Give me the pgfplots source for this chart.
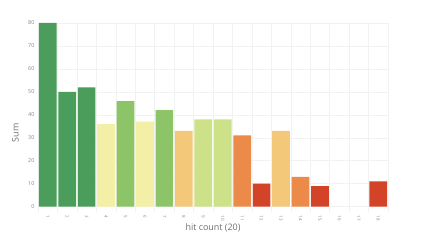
\documentclass[border=0pt]{standalone}
\usepackage{pgfplots}
\pgfplotsset{compat=1.18}
\usepackage{fontspec}
\setmainfont{Open Sans}
\definecolor{dg}{HTML}{4A9D5B}
\definecolor{ly}{HTML}{F4EFA6}
\definecolor{mg}{HTML}{8CC467}
\definecolor{lo}{HTML}{F4C879}
\definecolor{yg}{HTML}{CDE288}
\definecolor{or}{HTML}{EB8A49}
\definecolor{rd}{HTML}{D24327}
\definecolor{gridc}{HTML}{F2F2F2}
\definecolor{tickc}{HTML}{888888}
\definecolor{labc}{HTML}{707070}
\begin{document}
\begin{tikzpicture}[x=1bp,y=1bp]
\path[use as bounding box] (0,0) rectangle (436,245);
\begin{axis}[
  at={(38bp,32.6bp)}, anchor=south west,
  scale only axis, width=350bp, height=189.4bp,
  ymin=-2.5, ymax=80, xmin=0.5, xmax=18.5,
  ybar, bar width=0.91, bar shift=0pt,
  axis line style={draw=none},
  ytick={0,10,...,80},
  xtick={1,...,18},
  minor xtick={0.5,1.5,...,18.5},
  xminorgrids=true, ymajorgrids=true,
  grid style={gridc, line width=0.5pt},
  minor grid style={gridc, line width=0.5pt},
  major tick length=0pt, minor tick length=0pt,
  tick style={draw=none},
  xticklabel style={rotate=-90, anchor=west, font=\fontsize{4.5}{5}\selectfont, text=tickc},
  yticklabel style={font=\fontsize{5.5}{6}\selectfont, text=tickc},
  /pgf/number format/assume math mode=true,
  ylabel={Sum}, xlabel={hit count (20)},
  label style={font=\fontsize{9}{10}\selectfont, text=labc},
  ylabel style={at={(-0.045,0.42)}},
  xlabel style={at={(0.5,0)}, yshift=-7.5bp},
  clip=false,
]
\addplot[fill=dg, draw=none] coordinates {(1,80) (2,50) (3,52)};
\addplot[fill=ly, draw=none] coordinates {(4,36) (6,37)};
\addplot[fill=mg, draw=none] coordinates {(5,46) (7,42)};
\addplot[fill=lo, draw=none] coordinates {(8,33) (13,33)};
\addplot[fill=yg, draw=none] coordinates {(9,38) (10,38)};
\addplot[fill=or, draw=none] coordinates {(11,31) (14,13)};
\addplot[fill=rd, draw=none] coordinates {(12,10) (15,9) (18,11)};
\end{axis}
\end{tikzpicture}
\end{document}
